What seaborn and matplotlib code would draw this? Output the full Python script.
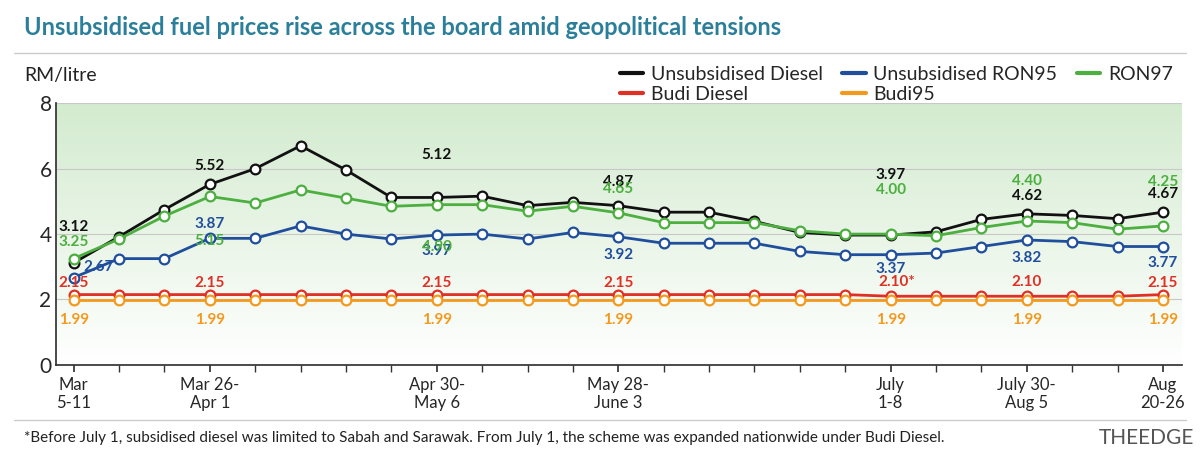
import numpy as np
import pandas as pd
import matplotlib
matplotlib.use("Agg")
import matplotlib.pyplot as plt
import seaborn as sns
from matplotlib.colors import LinearSegmentedColormap

weeks = list(range(25))
diesel = [3.12,3.92,4.75,5.52,6.00,6.70,5.96,5.12,5.12,5.16,4.87,4.97,4.87,4.67,4.67,4.39,4.05,3.97,3.97,4.07,4.45,4.62,4.57,4.47,4.67]
ron97 = [3.25,3.85,4.55,5.15,4.95,5.35,5.10,4.85,4.90,4.90,4.70,4.85,4.65,4.35,4.35,4.35,4.10,4.00,4.00,3.95,4.20,4.40,4.35,4.15,4.25]
ron95 = [2.67,3.25,3.25,3.87,3.87,4.25,4.00,3.85,3.97,4.00,3.85,4.05,3.92,3.72,3.72,3.72,3.47,3.37,3.37,3.42,3.62,3.82,3.77,3.62,3.62]
budi_diesel = [2.15]*18 + [2.10]*6 + [2.15]
budi95 = [1.99]*25
tick_pos = [0,3,8,12,18,21,24]
tick_labels = ["Mar\n5-11","Mar 26-\nApr 1","Apr 30-\nMay 6","May 28-\nJune 3","July\n1-8","July 30-\nAug 5","Aug\n20-26"]

series = [("Unsubsidised Diesel", diesel, "#111111"),
          ("Unsubsidised RON95", ron95, "#1f4e9c"),
          ("RON97", ron97, "#4caf3f"),
          ("Budi Diesel", budi_diesel, "#e03025"),
          ("Budi95", budi95, "#f39a1e")]

# index: (text, dx px, dy px to text centre)
labels = {
 "Unsubsidised Diesel": {0:("3.12",0,36),3:("5.52",0,18),8:("5.12",0,42),12:("4.87",0,24),18:("3.97",0,60),21:("4.62",0,18),24:("4.67",0,18)},
 "RON97": {0:("3.25",0,17),3:("5.15",0,-45),8:("4.90",0,-42),12:("4.65",0,24),18:("4.00",0,44),21:("4.40",0,40),24:("4.25",0,44)},
 "Unsubsidised RON95": {0:("2.67",25,11),3:("3.87",0,14),8:("3.97",0,-16),12:("3.92",0,-18),18:("3.37",0,-14),21:("3.82",0,-18),24:("3.77",0,-16)},
 "Budi Diesel": {0:("2.15",0,12),3:("2.15",0,12),8:("2.15",0,12),12:("2.15",0,12),18:("2.10*",6,14),21:("2.10",0,14),24:("2.15",0,12)},
 "Budi95": {0:("1.99",0,-20),3:("1.99",0,-20),8:("1.99",0,-20),12:("1.99",0,-20),18:("1.99",0,-20),21:("1.99",0,-20),24:("1.99",0,-20)},
}

sns.set_theme(style="white")
plt.rcParams['font.family'] = ['Lato', 'DejaVu Sans']
fig = plt.figure(figsize=(12, 4.59), dpi=100)
ax = fig.add_axes([0.047, 0.205, 0.938, 0.57])
ax.set_xlim(-0.38, 24.42)
ax.set_ylim(0, 8)

cmap = LinearSegmentedColormap.from_list("g", ["#ffffff", "#d3ebcf"])
grad = np.linspace(0, 1, 256).reshape(-1, 1)
ax.imshow(grad, aspect="auto", cmap=cmap, extent=[-0.38, 24.42, 8, 0], zorder=0)
for y in [2,4,6,8]:
    ax.axhline(y, color="#c8c8c8", lw=0.8, zorder=1)

for name, vals, col in series:
    df = pd.DataFrame({"week": weeks, "price": vals})
    sns.lineplot(data=df, x="week", y="price", ax=ax, color=col, lw=2, marker="o",
                 markersize=7, markerfacecolor="white", markeredgecolor=col,
                 markeredgewidth=1.6, zorder=3, legend=False)
    for i, (t, dx, dy) in labels[name].items():
        ax.annotate(t, (weeks[i], vals[i]), xytext=(dx*0.72, dy*0.72), textcoords="offset points",
                    ha="center", va="center", color=col,
                    fontsize=11, fontweight="bold", zorder=4)

ax.set_xticks(tick_pos)
ax.set_xticklabels(tick_labels, fontsize=12)
ax.set_xticks(weeks, minor=True)
ax.tick_params(axis="x", which="both", direction="out", length=5, bottom=True, color="#333333")
ax.set_yticks([0,2,4,6,8])
ax.tick_params(axis="y", labelsize=15, length=0)
ax.set_xlabel(""); ax.set_ylabel("")
for s in ["top","right"]:
    ax.spines[s].set_visible(False)
ax.spines["left"].set_color("#333333")
ax.spines["bottom"].set_color("#333333")

fig.text(0.02, 0.94, "Unsubsidised fuel prices rise across the board amid geopolitical tensions",
         fontsize=17, fontweight="bold", color="#2b7f9a", va="center")
fig.add_artist(plt.Line2D([0.012, 0.988], [0.885, 0.885], color="#cccccc", lw=1))
fig.text(0.02, 0.835, "RM/litre", fontsize=14, color="#222222", va="center")

order = [0, 3, 1, 4, 2]
fig.legend([plt.Line2D([], [], color=series[k][2], lw=3) for k in order],
           [series[k][0] for k in order], ncol=3, loc="upper right",
           bbox_to_anchor=(0.992, 0.895), frameon=False, fontsize=14,
           handlelength=1.2, columnspacing=1.0, handletextpad=0.4, labelspacing=0.15)

fig.add_artist(plt.Line2D([0.012, 0.988], [0.085, 0.085], color="#cccccc", lw=1))
fig.text(0.02, 0.045, "*Before July 1, subsidised diesel was limited to Sabah and Sarawak. From July 1, the scheme was expanded nationwide under Budi Diesel.",
         fontsize=11, color="#222222", va="center")
fig.text(0.995, 0.045, "THEEDGE", fontsize=15, color="#555555", ha="right", va="center")

fig.savefig("out.png", dpi=100)
